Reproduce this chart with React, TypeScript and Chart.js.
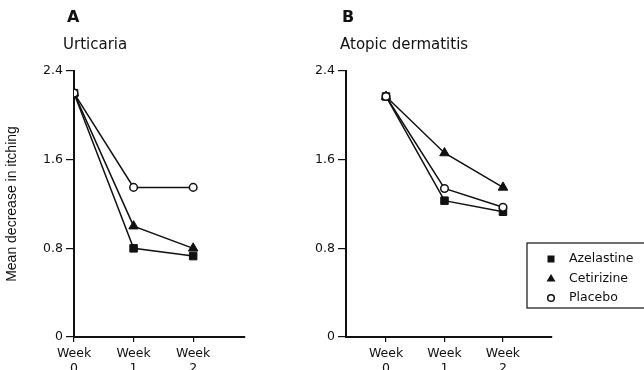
import React, { useEffect, useRef } from "react";
import { Chart, registerables } from "chart.js";

Chart.register(...registerables);

// ---- Data ----
const weeks = [0, 1, 2];
const seriesNames = ["Azelastine", "Cetirizine", "Placebo"];
const urticariaAzelastine = [2.2, 0.8, 0.73];
const urticariaCetirizine = [2.2, 1.0, 0.8];
const urticariaPlacebo = [2.2, 1.35, 1.35];
const atopicAzelastine = [2.17, 1.23, 1.13];
const atopicCetirizine = [2.17, 1.66, 1.35];
const atopicPlacebo = [2.17, 1.34, 1.17];
const yTicks = [0, 0.8, 1.6, 2.4];
const yAxisTitle = "Mean decrease in itching";
const panelLetters = ["A", "B"];
const panelTitles = ["Urticaria", "Atopic dermatitis"];

const INK = "#111";
const FONT = "'DejaVu Sans', sans-serif";

const pts = (vals: number[]) => weeks.map((w, i) => ({ x: w, y: vals[i] }));

function makeDatasets(az: number[], ce: number[], pl: number[]) {
  const base = { borderColor: INK, borderWidth: 1.5, showLine: true, tension: 0 };
  return [
    { ...base, label: seriesNames[2], data: pts(pl), pointStyle: "circle", pointRadius: 3.8, pointBackgroundColor: "#fff", pointBorderColor: INK, pointBorderWidth: 1.5 },
    { ...base, label: seriesNames[1], data: pts(ce), pointStyle: "triangle", pointRadius: 5.5, pointBackgroundColor: INK, pointBorderColor: INK, pointBorderWidth: 1 },
    { ...base, label: seriesNames[0], data: pts(az), pointStyle: "rect", pointRadius: 5.3, pointBackgroundColor: INK, pointBorderColor: INK, pointBorderWidth: 1 },
  ];
}

const titlePlugin = {
  id: "panelTitle",
  afterDraw(chart: any, _args: any, opts: any) {
    const ctx = chart.ctx;
    ctx.save();
    ctx.fillStyle = INK;
    ctx.textBaseline = "middle";
    ctx.textAlign = "left";
    ctx.font = `bold 16px ${FONT}`;
    ctx.fillText(opts.letter, opts.letterX, 18);
    ctx.font = `15px ${FONT}`;
    ctx.fillText(opts.title, opts.titleX, 45);
    ctx.restore();
  },
};

const legendPlugin = {
  id: "boxLegend",
  afterDraw(chart: any, _args: any, opts: any) {
    if (!opts || !opts.show) return;
    const ctx = chart.ctx;
    const { x, y, w, h } = opts;
    ctx.save();
    ctx.strokeStyle = INK;
    ctx.lineWidth = 1.2;
    ctx.strokeRect(x, y, w, h);
    const rows = [
      { name: seriesNames[0], style: "rect" },
      { name: seriesNames[1], style: "triangle" },
      { name: seriesNames[2], style: "circle" },
    ];
    ctx.font = `12.5px ${FONT}`;
    ctx.textBaseline = "middle";
    ctx.textAlign = "left";
    rows.forEach((r, i) => {
      const cy = y + 16 + i * 19.5;
      const cx = x + 24;
      ctx.fillStyle = INK;
      if (r.style === "rect") {
        ctx.fillRect(cx - 3.5, cy - 3.5, 7, 7);
      } else if (r.style === "triangle") {
        ctx.beginPath();
        ctx.moveTo(cx, cy - 4.5);
        ctx.lineTo(cx + 4.5, cy + 3);
        ctx.lineTo(cx - 4.5, cy + 3);
        ctx.closePath();
        ctx.fill();
      } else {
        ctx.beginPath();
        ctx.arc(cx, cy, 3.3, 0, Math.PI * 2);
        ctx.fillStyle = "#fff";
        ctx.fill();
        ctx.lineWidth = 1.5;
        ctx.strokeStyle = INK;
        ctx.stroke();
      }
      ctx.fillStyle = INK;
      ctx.fillText(r.name, x + 42, cy);
    });
    ctx.restore();
  },
};

function makeConfig(p: {
  datasets: any[];
  xMin: number;
  xMax: number;
  yWidth: number;
  padRight: number;
  showYTitle: boolean;
  letter: string;
  title: string;
  letterX: number;
  titleX: number;
  legend: any;
}): any {
  return {
    type: "scatter",
    data: { datasets: p.datasets },
    plugins: [titlePlugin, legendPlugin],
    options: {
      responsive: false,
      animation: false,
      devicePixelRatio: 1,
      layout: { padding: { top: 71, left: 0, right: p.padRight, bottom: 0 } },
      plugins: {
        legend: { display: false },
        tooltip: { enabled: false },
        title: { display: false },
        panelTitle: { letter: p.letter, title: p.title, letterX: p.letterX, titleX: p.titleX },
        boxLegend: p.legend,
      },
      scales: {
        x: {
          type: "linear",
          min: p.xMin,
          max: p.xMax,
          afterBuildTicks: (scale: any) => {
            scale.ticks = weeks.map((v) => ({ value: v }));
          },
          afterFit: (scale: any) => {
            scale.height = 33;
          },
          grid: { display: true, drawOnChartArea: false, drawTicks: true, tickLength: 5, color: INK, lineWidth: 1.2 },
          border: { display: true, color: INK, width: 2 },
          ticks: {
            color: INK,
            font: { family: FONT, size: 12.5, lineHeight: 1.15 },
            padding: 5,
            maxRotation: 0,
            autoSkip: false,
            callback: (v: any) => ["Week", String(v)],
          },
        },
        y: {
          type: "linear",
          min: 0,
          max: 2.4,
          afterBuildTicks: (scale: any) => {
            scale.ticks = yTicks.map((v) => ({ value: v }));
          },
          afterFit: (scale: any) => {
            scale.width = p.yWidth;
          },
          grid: { display: true, drawOnChartArea: false, drawTicks: true, tickLength: 8, color: INK, lineWidth: 1.2 },
          border: { display: true, color: INK, width: 2 },
          ticks: {
            color: INK,
            font: { family: FONT, size: 12.5 },
            padding: 3,
            callback: (v: any) => String(Math.round(v * 10) / 10),
          },
          title: {
            display: p.showYTitle,
            text: yAxisTitle,
            color: INK,
            font: { family: "'Liberation Sans', Arial, sans-serif", size: 14 },
            padding: { top: 4, bottom: 0 },
          },
        },
      },
    },
  };
}

function Panel(props: { left: number; width: number; config: any }) {
  const ref = useRef<HTMLCanvasElement | null>(null);
  useEffect(() => {
    if (!ref.current) return;
    const chart = new Chart(ref.current, props.config);
    return () => chart.destroy();
  }, []);
  return (
    <canvas
      ref={ref}
      width={props.width}
      height={370}
      style={{ position: "absolute", left: props.left, top: 0, width: props.width, height: 370 }}
    />
  );
}

export default function App() {
  const leftConfig = makeConfig({
    datasets: makeDatasets(urticariaAzelastine, urticariaCetirizine, urticariaPlacebo),
    xMin: 0,
    xMax: 2.87,
    yWidth: 74,
    padRight: 55,
    showYTitle: true,
    letter: panelLetters[0],
    title: panelTitles[0],
    letterX: 67,
    titleX: 63,
    legend: { show: false },
  });
  const rightConfig = makeConfig({
    datasets: makeDatasets(atopicAzelastine, atopicCetirizine, atopicPlacebo),
    xMin: -0.684,
    xMax: 2.838,
    yWidth: 46,
    padRight: 92,
    showYTitle: false,
    letter: panelLetters[1],
    title: panelTitles[1],
    letterX: 42,
    titleX: 40,
    legend: { show: true, x: 227, y: 243, w: 130, h: 65 },
  });
  return (
    <div style={{ position: "fixed", left: 0, top: 0, width: 644, height: 370, background: "#fff", overflow: "hidden" }}>
      <Panel left={0} width={300} config={leftConfig} />
      <Panel left={300} width={344} config={rightConfig} />
    </div>
  );
}
